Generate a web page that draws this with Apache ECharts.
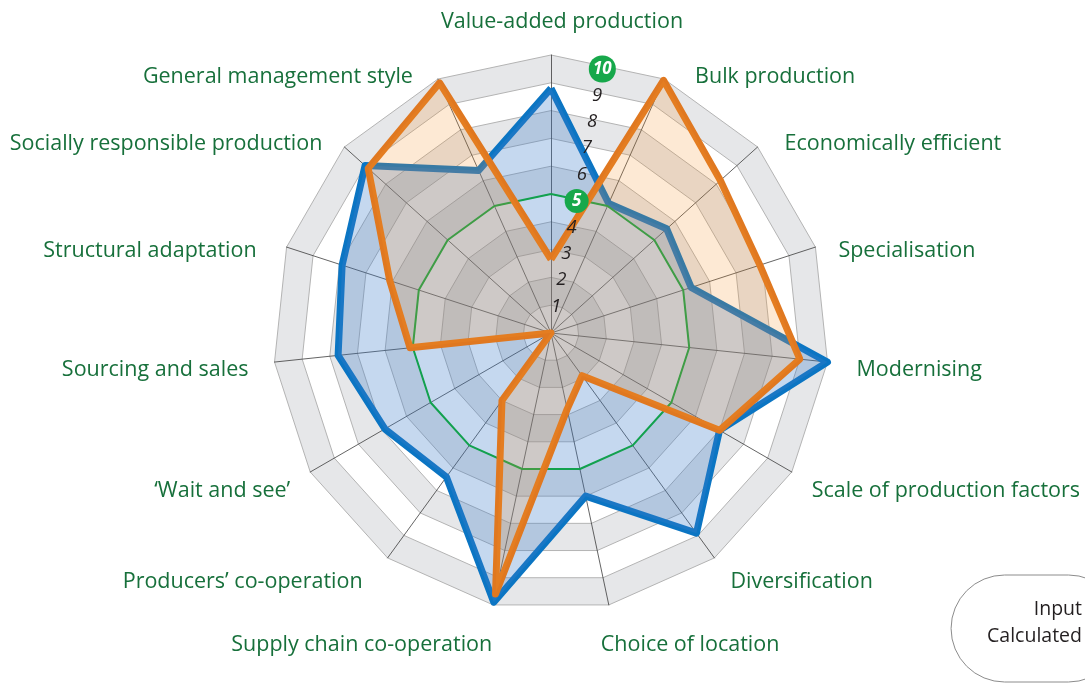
<!DOCTYPE html>
<html>
<head>
<meta charset="utf-8">
<title>Farm strategy profile</title>
<script src="https://cdn.jsdelivr.net/npm/echarts@6/dist/echarts.min.js"></script>
<style>
  html, body { margin: 0; padding: 0; background: #fff; }
  #chart { width: 1085px; height: 684px; }
</style>
</head>
<body>
<div id="chart"></div>
<script>
// axes listed clockwise, starting at the top
var indicatorNames = [
    'Value-added production', 'Bulk production', 'Economically efficient',
    'Specialisation', 'Modernising', 'Scale of production factors',
    'Diversification', 'Choice of location', 'Supply chain co-operation',
    'Producers\u2019 co-operation', '\u2018Wait and see\u2019', 'Sourcing and sales',
    'Structural adaptation', 'Socially responsible production', 'General management style'
];
var inputValues      = [8.8, 5.1, 5.6, 5.3, 10, 7.0, 8.9, 6.0, 9.9, 6.4, 6.9, 7.7, 7.9, 9.0, 6.4];
var calculatedValues = [2.65, 9.95, 8.2, 7.9, 9.0, 7.0, 1.9, 2.8, 9.6, 3.0, 0, 5.1, 6.1, 8.85, 9.85];
var thresholdValues  = [5, 5, 5, 5, 5, 5, 5, 5, 5, 5, 5, 5, 5, 5, 5];
var seriesNames = ['Input', 'Calculated'];
var scaleMax = 10;
var badgeTicks = [5, 10];

// where each axis name sits relative to its outer corner (px), same order as the names
var nameShift = [
    [11, -33], [31, -2], [27, -3], [23, 4], [29, 8], [20, 19], [16, 24], [-8, 40],
    [-1, 40], [-25, 24], [-20, 19], [-26, 8], [-30, 4], [-22, -3], [-25, -2]
];

var GREEN_TEXT = '#17703b';
var FONT = 'Open Sans';

// echarts lays radar axes out counter-clockwise
function ccw(arr) {
    return [arr[0]].concat(arr.slice(1).reverse());
}

// vertical part of the nudge goes into the name gap (along the axis),
// what is left horizontally goes into the text padding
var indicators = indicatorNames.map(function (name, i) {
    var rad = i * 2 * Math.PI / indicatorNames.length;
    var sin = Math.sin(rad), cos = Math.cos(rad);
    var s = nameShift[i];
    var gap = -s[1] / cos;
    var rest = s[0] - gap * sin;
    var align = i === 0 ? 'center' : (sin > 0 ? 'left' : 'right');
    var pad = [0, 0, 0, 0];
    if (align === 'center') pad[3] = 2 * rest;
    else if (align === 'left') pad[3] = rest;
    else pad[1] = -rest;
    return {
        name: name,
        min: 0,
        max: scaleMax,
        nameGap: gap,
        nameTextStyle: { align: align, verticalAlign: 'middle', padding: pad }
    };
});

var chart = echarts.init(document.getElementById('chart'));

var option = {
    backgroundColor: '#fff',
    animation: false,
    legend: {
        data: seriesNames,
        orient: 'vertical',
        right: -37,
        top: 575,
        align: 'right',
        itemWidth: 25,
        itemHeight: 20,
        itemGap: 7,
        padding: [24, 10, 36, 36],
        borderColor: '#8c8c8c',
        borderWidth: 1,
        borderRadius: 54,
        textStyle: { fontFamily: FONT, fontSize: 19.5, color: '#231f20' }
    },
    radar: {
        center: [551, 333],
        radius: 278,
        startAngle: 90,
        shape: 'polygon',
        splitNumber: 10,
        indicator: ccw(indicators),
        axisNameGap: 0,
        axisName: {
            color: GREEN_TEXT,
            fontFamily: FONT,
            fontSize: 21.5
        },
        axisLine: { lineStyle: { color: '#3c3c3c', width: 0.8 } },
        splitLine: { lineStyle: { color: '#b4b4b4', width: 1 } },
        splitArea: { show: true, areaStyle: { color: ['#ffffff', '#e6e7e9'] } }
    },
    polar: {
        center: [551, 333],
        radius: 269
    },
    angleAxis: {
        type: 'value',
        startAngle: 79,
        show: false
    },
    radiusAxis: {
        type: 'value',
        min: 0,
        max: scaleMax,
        interval: 1,
        z: 10,
        axisLine: { show: false },
        axisTick: { show: false },
        splitLine: { show: false },
        axisLabel: {
            margin: 0,
            align: 'center',
            verticalAlign: 'middle',
            showMaxLabel: true,
            showMinLabel: false,
            fontFamily: FONT,
            fontStyle: 'italic',
            fontSize: 18.5,
            color: '#231f20',
            formatter: function (v) {
                if (v === 0) return '';
                if (badgeTicks.indexOf(v) >= 0) return '{b' + v + '|' + v + '}';
                return String(v);
            },
            rich: {
                b10: {
                    backgroundColor: '#17a84b', color: '#fff', borderRadius: 13,
                    width: 27, height: 27, lineHeight: 27, align: 'center',
                    fontWeight: 'bold', fontStyle: 'italic', fontSize: 17, fontFamily: FONT
                },
                b5: {
                    backgroundColor: '#17a84b', color: '#fff', borderRadius: 12,
                    width: 24, height: 24, lineHeight: 24, align: 'center',
                    fontWeight: 'bold', fontStyle: 'italic', fontSize: 17, fontFamily: FONT
                }
            }
        }
    },
    series: [
        {
            name: seriesNames[0],
            type: 'radar',
            symbol: 'none',
            z: 2,
            lineStyle: { color: '#0b75c3', width: 7 },
            itemStyle: { color: '#0b75c3' },
            areaStyle: { color: '#3e7dca', opacity: 0.3 },
            data: [{ value: ccw(inputValues), name: seriesNames[0] }]
        },
        {
            name: 'Threshold',
            type: 'radar',
            symbol: 'none',
            z: 3,
            silent: true,
            lineStyle: { color: '#12a14e', width: 2 },
            data: [{ value: ccw(thresholdValues), name: 'Threshold' }]
        },
        {
            name: seriesNames[1],
            type: 'radar',
            symbol: 'none',
            z: 4,
            lineStyle: { color: '#e07820', width: 7 },
            itemStyle: { color: '#e07820' },
            areaStyle: { color: '#f59128', opacity: 0.2 },
            data: [{ value: ccw(calculatedValues), name: seriesNames[1] }]
        }
    ]
};

chart.setOption(option);
</script>
</body>
</html>
